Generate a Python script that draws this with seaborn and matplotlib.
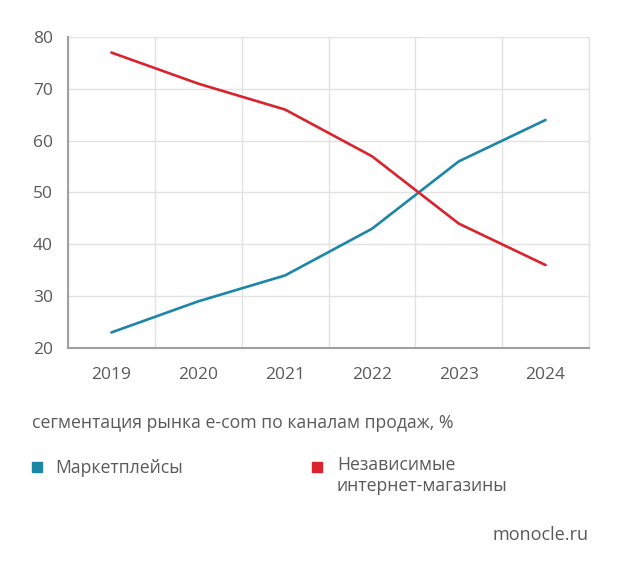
import numpy as np
import pandas as pd
import matplotlib
matplotlib.use("Agg")
import matplotlib.pyplot as plt
import seaborn as sns
from matplotlib.ticker import FixedLocator

years = [2019, 2020, 2021, 2022, 2023, 2024]
marketplaces = [23, 29, 34, 43, 56, 64]
independent = [77, 71, 66, 57, 44, 36]
series_names = ["Маркетплейсы", "Независимые\nинтернет-магазины"]
yticks = [20, 30, 40, 50, 60, 70, 80]

BLUE = "#1b86a6"
RED = "#d9232d"
TEXT = "#5a5a5a"

data = pd.DataFrame({
    "year": years * 2,
    "share": marketplaces + independent,
    "series": [series_names[0]] * len(years) + [series_names[1]] * len(years),
})

sns.set_style("white")
plt.rcParams["font.family"] = ["Open Sans", "DejaVu Sans"]
plt.rcParams["font.size"] = 12.5

fig = plt.figure(figsize=(6.2, 5.73), dpi=100)
ax = fig.add_axes([0.1097, 0.3927, 0.8403, 0.5427])

sns.lineplot(data=data, x="year", y="share", hue="series", hue_order=series_names,
             palette=[BLUE, RED], linewidth=1.9, legend=False, ax=ax)

ax.set_xlim(2018.5, 2024.5)
ax.set_ylim(20, 80)
ax.set_xticks(years)
ax.set_xticklabels([str(y) for y in years])
ax.xaxis.set_minor_locator(FixedLocator([y + 0.5 for y in [2018] + years]))
ax.set_yticks(yticks)
ax.yaxis.set_minor_locator(FixedLocator([20]))
ax.grid(True, which="minor", axis="x", color="#e2e2e2", linewidth=1)
ax.grid(True, which="major", axis="y", color="#e2e2e2", linewidth=1)
ax.set_axisbelow(True)
ax.tick_params(axis="x", which="major", length=0, pad=14, labelcolor=TEXT, labelsize=12.5)
ax.tick_params(axis="x", which="minor", length=6, width=1, color="#d0d0d0")
ax.tick_params(axis="y", which="major", length=0, pad=11, labelcolor=TEXT, labelsize=12.5)
ax.tick_params(axis="y", which="minor", length=6, width=1.5, color="#a0a0a0")
ax.set_xlabel("")
ax.set_ylabel("")

for side in ["left", "bottom"]:
    ax.spines[side].set_color("#a0a0a0")
    ax.spines[side].set_linewidth(1.5)
ax.spines["top"].set_visible(False)
ax.spines["right"].set_color("#e2e2e2")
ax.spines["right"].set_linewidth(1)

fig.text(32 / 620, 1 - 423 / 573, "сегментация рынка e-com по каналам продаж, %",
         color=TEXT, fontsize=12.7, va="center", ha="left")

# legend
fig.patches.append(plt.Rectangle((32 / 620, 1 - 472 / 573), 10 / 620, 10 / 573,
                                 transform=fig.transFigure, color=BLUE))
fig.text(55 / 620, 1 - 468 / 573, series_names[0], color=TEXT, fontsize=12.7,
         va="center", ha="left")
fig.patches.append(plt.Rectangle((312 / 620, 1 - 472 / 573), 10 / 620, 10 / 573,
                                 transform=fig.transFigure, color=RED))
fig.text(337 / 620, 1 - 456 / 573, series_names[1], color=TEXT, fontsize=12.7,
         va="top", ha="left", linespacing=1.2)

fig.text(588 / 620, 1 - 535 / 573, "monocle.ru", color=TEXT, fontsize=13,
         va="center", ha="right")

fig.savefig("out.png", dpi=100)
